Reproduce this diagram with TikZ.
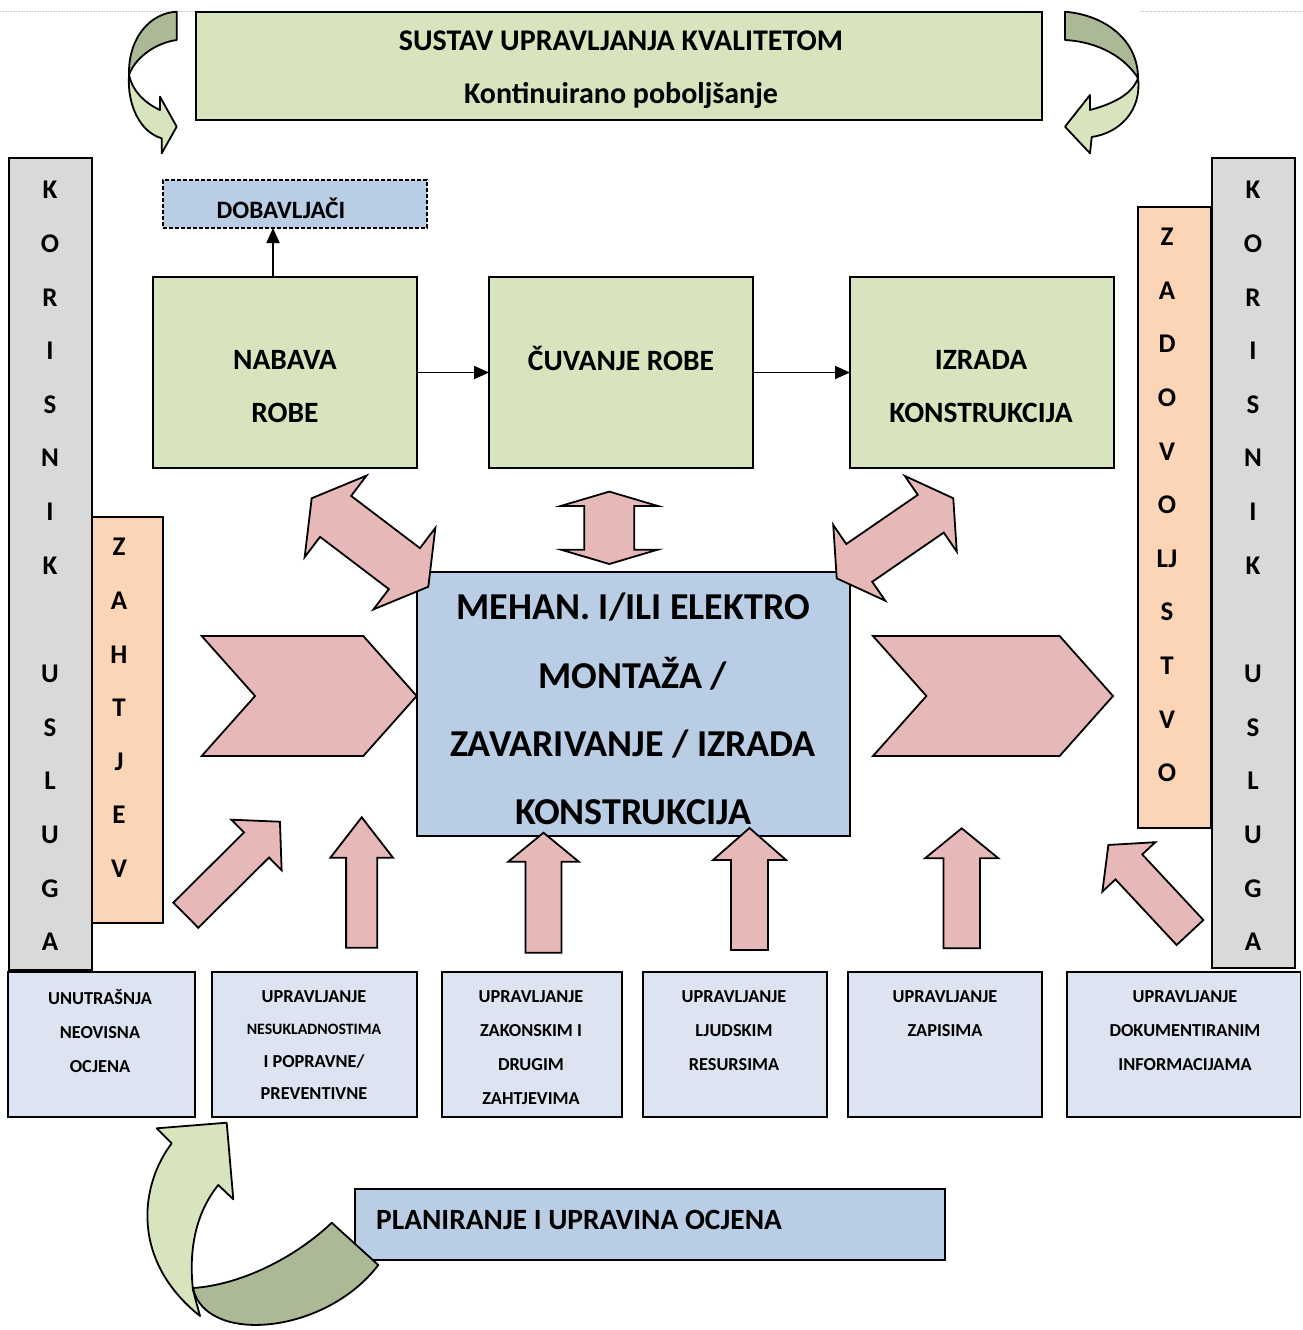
\documentclass[tikz,border=0pt]{standalone}
\usepackage{fontspec}
\setmainfont{Carlito}
\usepackage{tikz}
\usetikzlibrary{positioning, arrows.meta}

\definecolor{qgreen}{HTML}{D7E4BD}
\definecolor{qdarkgreen}{HTML}{ABB996}
\definecolor{qblue}{HTML}{B9CDE5}
\definecolor{qpale}{HTML}{DCE4F1}
\definecolor{qpink}{HTML}{E6B9B8}
\definecolor{qpeach}{HTML}{FBD5B5}
\definecolor{qgray}{HTML}{D9D9D9}

\tikzset{
  box/.style = {draw=black, line width=1.8pt, inner sep=0pt, outer sep=0pt},
  greenbox/.style = {box, fill=qgreen},
  bluebox/.style = {box, fill=qblue},
  lowbox/.style = {box, fill=qpale, minimum height=145},
  graybar/.style = {box, fill=qgray, minimum width=83},
  peachbar/.style = {box, fill=qpeach},
  pinkarrow/.style = {draw=black, line width=1.8pt, fill=qpink, line join=miter},
  curlfront/.style = {draw=black, line width=1.8pt, fill=qgreen, line join=round},
  curlback/.style = {draw=black, line width=1.8pt, fill=qdarkgreen, line join=round},
  conn/.style = {line width=1.8pt, -{Triangle[length=15pt, width=13pt]}},
  titletext/.style = {font=\bfseries\fontsize{30}{53}\selectfont, align=center, inner sep=0pt},
  proctext/.style = {font=\bfseries\fontsize{29.5}{53}\selectfont, align=center, inner sep=0pt},
  maintext/.style = {font=\bfseries\fontsize{38}{68.3}\selectfont, align=center, inner sep=0pt},
  lowtext/.style = {font=\bfseries\fontsize{18.3}{34}\selectfont, align=center, inner sep=0pt},
  vtext/.style = {font=\bfseries\fontsize{27}{53.6}\selectfont, align=center, inner sep=0pt},
}

\begin{document}
\begin{tikzpicture}[x=1pt, y=-1pt]
  \useasboundingbox[fill=white] (0,0) rectangle (1302,1330);
  \draw[gray!40, densely dotted, line width=0.6pt] (0,11.7) -- (196,11.7) (1140,11.7) -- (1302,11.7);

  % quality system
  \node[greenbox, minimum width=846, minimum height=108] (sustav) at (619,66) {};
  \node[titletext] (sustavtxt) at (621,70) {SUSTAV UPRAVLJANJA KVALITETOM\\Kontinuirano poboljšanje};

  \draw[curlfront] (129,75) .. controls (127,105) and (140,132) .. (161.7,138.3) -- (161.7,153.3) -- (176.7,126.7) -- (160,96.7) -- (160,110) .. controls (145,103) and (133,92) .. (129,75) -- cycle;
  \draw[curlback] (176.7,11.7) .. controls (150,13) and (128,38) .. (129,75) .. controls (135,58) and (155,43) .. (176.7,40) -- cycle;
  \draw[curlfront] (1138,78) .. controls (1142,110) and (1120,133) .. (1091.7,137) -- (1090,153.3) -- (1065,126.7) -- (1090,95) -- (1090,110) .. controls (1112,104) and (1132,95) .. (1138,78) -- cycle;
  \draw[curlback] (1065,11.7) .. controls (1105,15) and (1138,40) .. (1138,78) .. controls (1125,58) and (1100,42) .. (1065,40) -- cycle;

  % side bars
  \node[graybar, minimum height=812] (korisnikl) at (50.5,564) {};
  \node[vtext] (korisnikltxt) at (50,566) {K\\O\\R\\I\\S\\N\\I\\K\\[55pt]U\\S\\L\\U\\G\\A};
  \node[graybar, minimum height=810] (korisnikr) at (1253.5,563) {};
  \node[vtext] (korisnikrtxt) at (1253,566) {K\\O\\R\\I\\S\\N\\I\\K\\[55pt]U\\S\\L\\U\\G\\A};
  \node[peachbar, minimum width=71, minimum height=406] (zahtjev) at (127.5,720) {};
  \node[vtext] (zahtjevtxt) at (119,708) {Z\\A\\H\\T\\J\\E\\V};
  \node[peachbar, minimum width=73, minimum height=621] (zadovoljstvo) at (1174.5,517.5) {};
  \node[vtext] (zadovoljstvotxt) at (1167,505) {Z\\A\\D\\O\\V\\O\\LJ\\S\\T\\V\\O};

  % process
  \node[bluebox, line width=1.3pt, dash pattern=on 4pt off 2pt, minimum width=264, minimum height=48] (dobavljaci) at (295,204) {};
  \node[font=\bfseries\fontsize{25}{30}\selectfont, inner sep=0pt] (dobavljacitxt) at (281,208) {DOBAVLJAČI};
  \node[greenbox, minimum width=264, minimum height=191] (nabava) at (285,372.5) {};
  \node[proctext] (nabavatxt) at (285,386.5) {NABAVA\\ROBE};
  \node[greenbox, minimum width=264, minimum height=191] (cuvanje) at (621,372.5) {};
  \node[proctext] (cuvanjetxt) at (621,358) {ČUVANJE ROBE};
  \node[greenbox, minimum width=264, minimum height=191] (izrada) at (982,372.5) {};
  \node[proctext] (izradatxt) at (981,386.5) {IZRADA\\KONSTRUKCIJA};

  \draw[conn] (nabava) -- (cuvanje);
  \draw[conn] (cuvanje) -- (izrada);
  \draw[conn] ([xshift=-12pt]nabava.north) -- ([xshift=-12pt]nabava.north |- dobavljaci.south);

  \node[bluebox, minimum width=433, minimum height=264] (montaza) at (633.5,704) {};
  \node[maintext] (montazatxt) at (633,709) {MEHAN. I/ILI ELEKTRO\\MONTAŽA /\\ZAVARIVANJE / IZRADA\\KONSTRUKCIJA};

  % chevrons
  \foreach \xa/\xb in {201.7/416.7, 873/1113}
    \draw[pinkarrow] (\xa,636) -- ({\xb-53.4},636) -- (\xb,696) -- ({\xb-53.4},756) -- (\xa,756) -- ({\xa+53.4},696) -- cycle;

  % double arrows
  \foreach \px/\py/\ang/\hlen/\sw/\hw/\hd in {370/542.5/142.8/73.2/25.7/51.2/30, 609.3/527.8/90/36.2/25/48.3/14.3, 895/538.3/34.5/70.7/22.9/45.9/27.3}
  {
    \begin{scope}[shift={(\px,\py)}, rotate=\ang]
      \draw[pinkarrow] (-\hlen,0) -- ({-\hlen+\hd},\hw) -- ({-\hlen+\hd},\sw) -- ({\hlen-\hd},\sw) -- ({\hlen-\hd},\hw) -- (\hlen,0) -- ({\hlen-\hd},-\hw) -- ({\hlen-\hd},-\sw) -- ({-\hlen+\hd},-\sw) -- ({-\hlen+\hd},-\hw) -- cycle;
    \end{scope}
  }

  % single arrows
  \foreach \px/\py/\ang/\len/\sw/\hw/\hd in {185.8/915.2/44.8/132.7/17.7/35.6/33, 361.7/947.7/90/130.4/15.6/31.3/40.4, 543.5/952.7/90/120/18/35.3/29, 749.5/950/90/122/18.5/36.5/32, 961.7/948.3/90/120/18.3/36.7/30, 1190/932.5/133/119.7/18.3/36.2/30}
  {
    \begin{scope}[shift={(\px,\py)}, rotate=\ang]
      \draw[pinkarrow] (0,-\sw) -- ({\len-\hd},-\sw) -- ({\len-\hd},-\hw) -- (\len,0) -- ({\len-\hd},\hw) -- ({\len-\hd},\sw) -- (0,\sw) -- cycle;
    \end{scope}
  }

  % support processes
  \node[lowbox, minimum width=186.7] (unutarnja) at (101.7,1044.2) {};
  \node[lowtext] (unutarnjatxt) at (100,1031) {UNUTRAŠNJA\\NEOVISNA\\OCJENA};
  \node[lowbox, minimum width=205] (nesukladnost) at (314.2,1044.2) {};
  \node[lowtext, font=\bfseries\fontsize{18.3}{32.3}\selectfont] (nesukladnosttxt) at (314,1045) {UPRAVLJANJE\\{\fontsize{15.8}{32.3}\selectfont NESUKLADNOSTIMA}\\I POPRAVNE/\\PREVENTIVNE};
  \node[lowbox, minimum width=180] (zakonski) at (531.7,1044.2) {};
  \node[lowtext] (zakonskitxt) at (531,1047.8) {UPRAVLJANJE\\ZAKONSKIM I\\DRUGIM\\ZAHTJEVIMA};
  \node[lowbox, minimum width=183.4] (ljudski) at (735,1044.2) {};
  \node[lowtext] (ljudskitxt) at (734,1030.3) {UPRAVLJANJE\\LJUDSKIM\\RESURSIMA};
  \node[lowbox, minimum width=193.4] (zapisi) at (945,1044.2) {};
  \node[lowtext] (zapisitxt) at (945,1013.3) {UPRAVLJANJE\\ZAPISIMA};
  \node[lowbox, minimum width=233.8] (dokumenti) at (1183.6,1044.2) {};
  \node[lowtext] (dokumentitxt) at (1185,1030.3) {UPRAVLJANJE\\DOKUMENTIRANIM\\INFORMACIJAMA};

  % planning
  \node[bluebox, minimum width=590, minimum height=71] (planiranje) at (650,1224.5) {};
  \node[font=\bfseries\fontsize{29.4}{30}\selectfont, inner sep=0pt, anchor=west] (planiranjetxt) at (376,1220) {PLANIRANJE I UPRAVINA OCJENA};

  \draw[curlfront] (193,1290) .. controls (188,1245) and (198,1210) .. (218.3,1185) -- (233.3,1199.3) -- (226.7,1122.7) -- (156.7,1128.3) -- (171.7,1143.3) .. controls (140,1185) and (130,1260) .. (200,1316) -- cycle;
  \draw[curlback] (331.7,1222.7) .. controls (295,1258) and (240,1285) .. (193,1288) .. controls (205,1345) and (325,1335) .. (378.3,1265) -- cycle;
\end{tikzpicture}
\end{document}
